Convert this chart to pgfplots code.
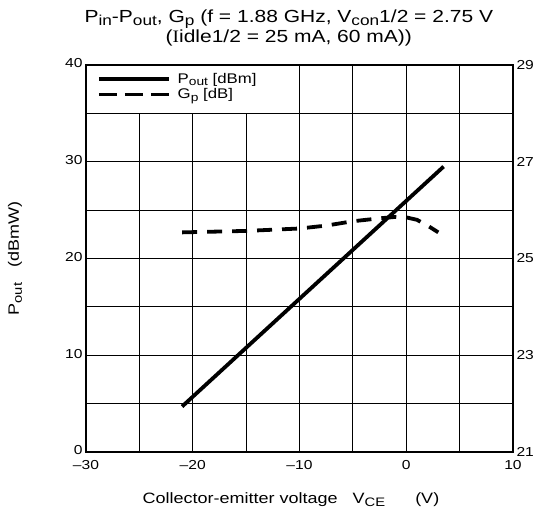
\documentclass[border=0pt]{standalone}
\usepackage{pgfplots}
\pgfplotsset{compat=1.18}
\usepackage{graphicx}
\usepackage{fontspec}
\setmainfont{Liberation Sans}[FakeStretch=1.2]
\newfontfamily\serifI{Liberation Serif}[FakeStretch=1.1]
\newcommand{\sub}[1]{\raisebox{-0.35ex}{\scalebox{0.82}{#1}}}

\pgfplotstableread{
x    y
-21  4.7
3.5  29.5
}\poutdata

% Gp on the right-hand scale (21 ... 29 dB)
\pgfplotstableread{
x     y
-21   25.54
-15   25.57
-10   25.62
-7.5  25.68
-5    25.77
-2.5  25.83
-1    25.86
0     25.85
1     25.80
2     25.68
3     25.54
}\gpdata

\begin{document}
\begin{tikzpicture}
\useasboundingbox (-86pt,-70pt) rectangle (452pt,452pt);
\pgfplotsset{
  base/.style={
    scale only axis, width=427pt, height=387pt,
    xmin=-30, xmax=10,
    major tick length=0pt, minor tick length=0pt,
    tick label style={font=\fontsize{13}{14}\selectfont},
    /pgf/number format/assume math mode=true,
  }
}
\begin{axis}[base,
  ymin=0, ymax=40,
  axis line style={line width=2.2pt},
  xtick={-30,-20,...,10},
  xticklabels={\textendash30,\textendash20,\textendash10,0,10},
  xticklabel style={yshift=-4.5pt},
  yticklabel style={yshift=1.5pt},
  minor xtick={-25,-15,...,5},
  ytick={0,10,...,40},
  minor ytick={5,15,...,35},
  grid=both,
  major grid style={black, line width=0.9pt},
  minor grid style={black, line width=0.9pt},
  title={P\sub{in}-P\sub{out}, G\sub{p} (f = 1.88 GHz, V\sub{con}1/2 = 2.75 V\\({\serifI I}idle1/2 = 25 mA, 60 mA))},
  title style={at={(rel axis cs:0.475,1)}, anchor=south, inner sep=0pt, yshift=13pt, align=center, font=\fontsize{17.5}{16.5}\selectfont},
  xlabel={Collector-emitter voltage\quad V\sub{CE}\qquad(V)},
  xlabel style={at={(rel axis cs:0.48,-0.124)}, anchor=center, font=\fontsize{15}{16}\selectfont},
  ylabel={P\sub{out}\quad(dBmW)},
  ylabel style={at={(rel axis cs:-0.166,0.5)}, anchor=center, font=\fontsize{15}{16}\selectfont},
  legend style={at={(rel axis cs:0.018,0.99)}, anchor=north west, draw=none, fill=none,
    font=\fontsize{14}{15}\selectfont, row sep=0pt,
    nodes={inner xsep=7pt}},
  legend cell align=left,
  legend image code/.code={\draw[#1] (0pt,0pt) -- (70pt,0pt);},
]
\fill[white] (axis cs:-30,35) rectangle (axis cs:-10,40);
\draw[black, line width=0.9pt] (axis cs:-30,35) rectangle (axis cs:-10,40);
\addplot[black, line width=3.8pt] table {\poutdata};
\addlegendentry{P\sub{out} [dBm]}
\addlegendimage{black, line width=3.8pt, dash pattern=on 18pt off 8pt}
\addlegendentry{G\sub{p} [dB]}
\end{axis}
\begin{axis}[base,
  ymin=21, ymax=29,
  axis x line=none,
  axis y line*=right,
  axis line style={line width=2.2pt},
  ytick={21,23,...,29},
]
\addplot[black, line width=3.8pt, dash pattern=on 15pt off 10pt] table {\gpdata};
\end{axis}
\end{tikzpicture}
\end{document}
